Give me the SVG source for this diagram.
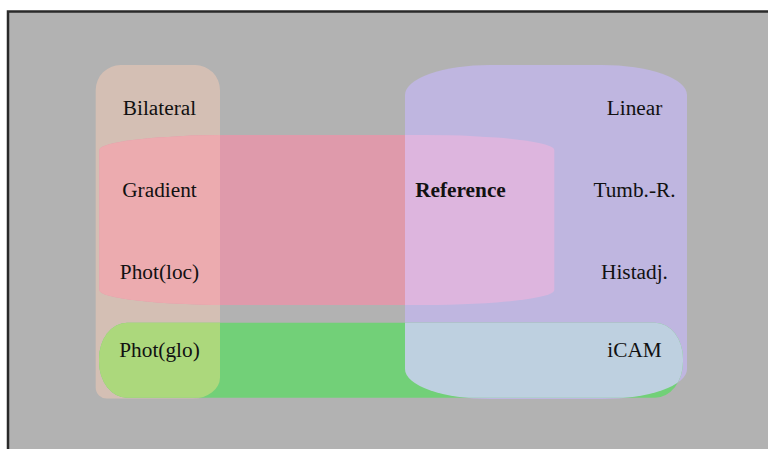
<svg xmlns="http://www.w3.org/2000/svg" width="768" height="449" viewBox="0 0 768 449">
  <style>
    .lbl { font-family: "Liberation Serif", "Times New Roman", serif; font-size: 21.3px; fill: #111; text-anchor: middle; }
    .bold { font-weight: bold; }
    .frame { fill: #b2b2b2; stroke: #2a2a2a; stroke-width: 2.5; }
  </style>
  <defs>
    <!-- set outlines, reused for fills and as clip regions -->
    <path id="shape-bilateral" d="M95.7,90 A25,25 0 0 1 120.7,65 H195 A25,25 0 0 1 220,90 V377.5 A27,21 0 0 1 193,398.5 H107 A11,11 0 0 1 95.7,387.5 Z"/>
    <rect id="shape-gradient" x="99.3" y="135" width="455" height="170" rx="130" ry="15"/>
    <rect id="shape-linear" x="405" y="65" width="282" height="334" rx="85" ry="30"/>
    <rect id="shape-glo" x="99" y="322.7" width="584" height="75" rx="28" ry="36"/>
    <clipPath id="clip-bilateral"><use href="#shape-bilateral"/></clipPath>
    <clipPath id="clip-linear"><use href="#shape-linear"/></clipPath>
  </defs>

  <!-- canvas with dark frame -->
  <rect class="frame" x="8" y="11.5" width="790" height="470"/>

  <g id="set-bilateral">
    <use href="#shape-bilateral" fill="#d4bfb4"/>
  </g>
  <g id="set-gradient">
    <use href="#shape-gradient" fill="#df9aab"/>
    <use href="#shape-gradient" fill="#ecabaf" clip-path="url(#clip-bilateral)"/>
  </g>
  <g id="set-linear">
    <use href="#shape-linear" fill="#bfb6e0"/>
    <use href="#shape-gradient" fill="#ddb5de" clip-path="url(#clip-linear)"/>
  </g>
  <g id="set-global">
    <use href="#shape-glo" fill="#72d078"/>
    <use href="#shape-glo" fill="#acd87c" clip-path="url(#clip-bilateral)"/>
    <use href="#shape-glo" fill="#bed0e0" clip-path="url(#clip-linear)"/>
  </g>

  <!-- region labels -->
  <g id="labels">
    <text class="lbl" x="159.5" y="115">Bilateral</text>
    <text class="lbl" x="159.5" y="197.3">Gradient</text>
    <text class="lbl" x="159.5" y="279.3">Phot(loc)</text>
    <text class="lbl" x="159.5" y="357.3">Phot(glo)</text>
    <text class="lbl bold" x="460.5" y="197.3">Reference</text>
    <text class="lbl" x="634.5" y="115">Linear</text>
    <text class="lbl" x="634.5" y="197">Tumb.-R.</text>
    <text class="lbl" x="634.5" y="279.3">Histadj.</text>
    <text class="lbl" x="634.5" y="357.3">iCAM</text>
  </g>
</svg>
